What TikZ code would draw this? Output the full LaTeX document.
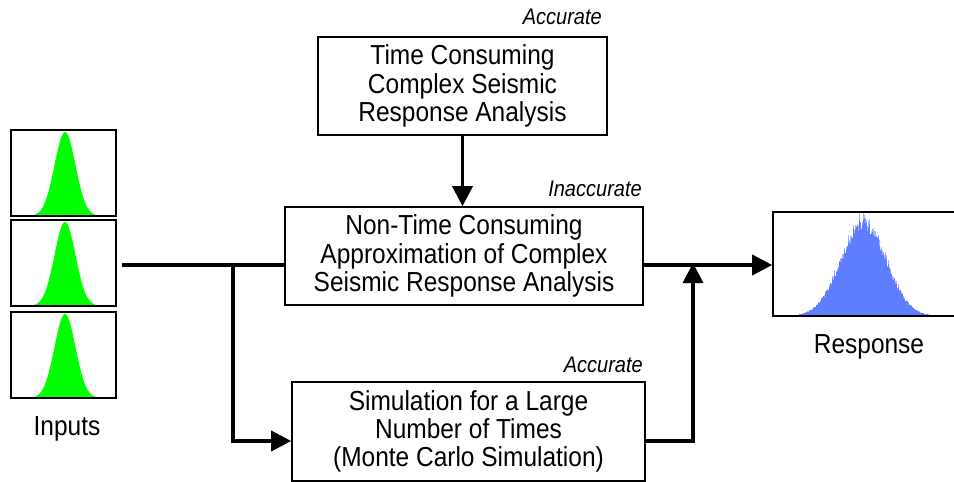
\documentclass[tikz,border=0pt]{standalone}
\usepackage{fontspec}
\setmainfont[FakeStretch=0.89]{Liberation Sans}
\usetikzlibrary{arrows.meta}
\definecolor{ggreen}{RGB}{0,255,0}
\definecolor{hblue}{RGB}{95,125,255}
\definecolor{hblue2}{RGB}{160,178,255}
\tikzset{
  box/.style={draw=black, line width=1.6pt, fill=white, align=center, inner sep=0pt,
    font=\fontsize{27.5}{28.3}\selectfont},
  plotbox/.style={draw=black, line width=1.6pt, inner sep=0pt},
  conn/.style={line width=3.5pt},
  arr/.style={line width=3.5pt, -{Triangle[length=20pt,width=20pt]}},
  tag/.style={font=\fontsize{22.5}{24}\selectfont\itshape, inner sep=0pt, anchor=east},
  caption/.style={font=\fontsize{27.5}{28.3}\selectfont, inner sep=0pt}
}
\begin{document}
\begin{tikzpicture}[x=1pt,y=-1pt]
\useasboundingbox (0,0) rectangle (954,482);
% input distributions
\foreach \b in {216,306,398}{
  \fill[ggreen] plot[domain=-33:33,samples=80] ({65+\x},{\b-84*exp(-((\x/10.5)^2)/2)}) -- cycle;
}
\node[plotbox, minimum width=105pt, minimum height=86pt] (in1) at (63.5,173) {};
\node[plotbox, minimum width=105pt, minimum height=86pt] (in2) at (63.5,263) {};
\node[plotbox, minimum width=105pt, minimum height=86pt] (in3) at (63.5,355) {};
\node[caption] (inlab) at (67,429) {Inputs};
% response histogram
\pgfmathsetseed{7}
\foreach \i in {792,...,940}{
  \pgfmathsetmacro\hh{95*exp(-(((\i-863)/22.5)^2)/2)*(0.9+0.14*rnd)}
  \pgfmathsetmacro\hl{\hh*(1+0.1*rnd)}
  \fill[hblue2] (\i,316) rectangle (\i+1,316-\hl);
  \fill[hblue] (\i,316) rectangle (\i+1,316-\hh);
}
\node[plotbox, minimum width=190pt, minimum height=104pt] (resp) at (868,264) {};
\node[caption] (resplab) at (869,347) {Response};
% boxes
\node[box, minimum width=289pt, minimum height=98pt] (top) at (462.5,86)
  {Time Consuming\\Complex Seismic\\Response Analysis};
\node[box, minimum width=358pt, minimum height=98pt] (mid) at (464,256)
  {Non-Time Consuming\\Approximation of Complex\\Seismic Response Analysis};
\node[box, minimum width=353pt, minimum height=99pt] (bot) at (468.5,431.5)
  {Simulation for a Large\\Number of Times\\(Monte Carlo Simulation)};
\node[tag] (t1) at (602,17) {Accurate};
\node[tag] (t2) at (642,189) {Inaccurate};
\node[tag] (t3) at (643,365) {Accurate};
% connectors
\coordinate (start) at (122,265);
\coordinate (j1) at (233,265);
\coordinate (j2) at (693,265);
\coordinate (c1) at (233,441);
\coordinate (c2) at (693,441);
\draw[conn] (start) -- (mid.west |- start);
\draw[arr] (j1) -- (c1) -- (bot.west |- c1);
\draw[arr] (bot.east |- c2) -- (c2) -- ([yshift=2pt]j2);
\draw[arr] (mid.east |- j2) -- (resp.west |- j2);
\draw[arr] (top.south) -- (mid.north -| top.south);
\end{tikzpicture}
\end{document}
